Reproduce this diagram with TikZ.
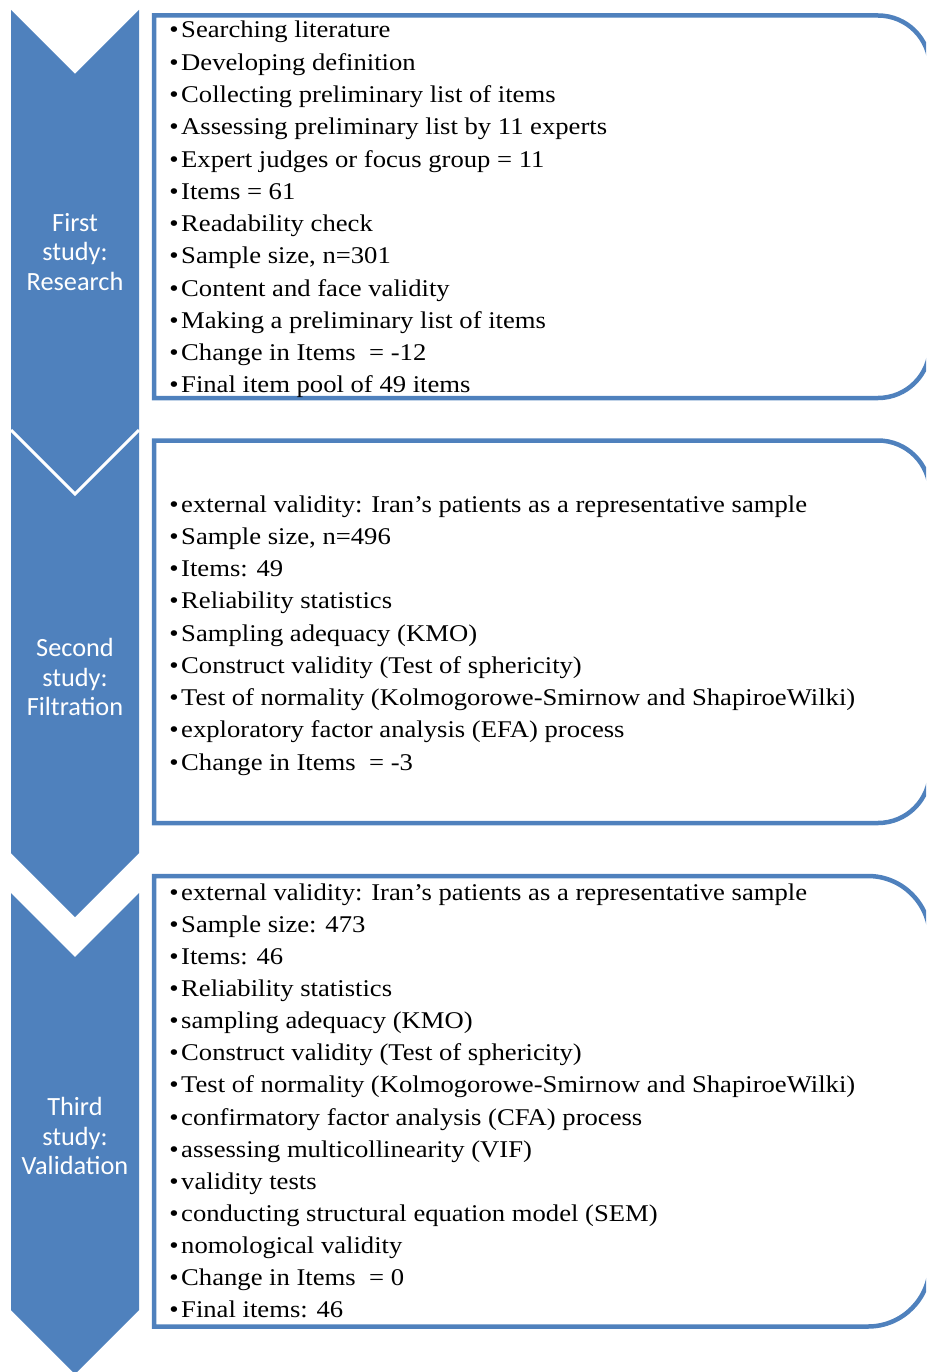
\documentclass[tikz,border=0pt]{standalone}
\usepackage{fontspec}
\setmainfont{Liberation Serif}
\newfontfamily\itemfont[FakeStretch=1.11]{Liberation Serif}
\newfontfamily\calib{Carlito}
\definecolor{accent}{HTML}{4F81BD}
\begin{document}
\begin{tikzpicture}[x=1pt,y=-1pt,
  chev/.style={fill=accent},
  notchline/.style={draw=white,line width=3pt},
  frame/.style={draw=accent,line width=4.5pt,line join=miter},
  item/.style={anchor=base west,inner sep=0pt,font=\itemfont\fontsize{24}{28}\selectfont},
  bul/.style={anchor=base,inner sep=0pt,font=\itemfont\fontsize{24}{28}\selectfont},
  lab/.style={text=white,align=center,inner sep=0pt,font=\calib\fontsize{26.3}{29.5}\selectfont}]
\useasboundingbox (0,0) rectangle (926,1372);
\clip (0,0) rectangle (926,1372);
% chevrons
\fill[chev] (11,10) -- (75,74) -- (139,10) -- (139,430) -- (75,494) -- (11,430) -- cycle;
\fill[chev] (11,430) -- (75,494) -- (139,430) -- (139,853) -- (75,917) -- (11,853) -- cycle;
\draw[notchline] (11,430) -- (75,494) -- (139,430);
\fill[chev] (11,893) -- (75,957) -- (139,893) -- (139,1310) -- (75,1374) -- (11,1310) -- cycle;
\node[lab] (c1) at (75,252) {First\\study:\\Research};
\node[lab] (c2) at (75,677) {Second\\study:\\Filtration};
\node[lab] (c3) at (75,1136) {Third\\study:\\Validation};
% frames
\draw[frame] (154,15.5) -- (878,15.5) arc[start angle=-90,end angle=0,radius=52] -- (930,346) arc[start angle=0,end angle=90,radius=52] -- (154,398) -- cycle;
\draw[frame] (154,440.5) -- (878,440.5) arc[start angle=-90,end angle=0,radius=52] -- (930,771) arc[start angle=0,end angle=90,radius=52] -- (154,823) -- cycle;
\draw[frame] (154,876) -- (868,876) arc[start angle=-90,end angle=0,radius=62] -- (930,1264.5) arc[start angle=0,end angle=90,radius=62] -- (154,1326.5) -- cycle;
% texts
\foreach \t [count=\i] in {Searching literature, Developing definition, Collecting preliminary list of items, Assessing preliminary list by 11 experts, Expert judges or focus group = 11, Items = 61, Readability check, {Sample size, n=301}, Content and face validity, Making a preliminary list of items, Change in Items\ \ = -12, Final item pool of 49 items} {
  \node[bul] (p1-\i) at (174,{38+32.27*(\i-1)}) {\textbullet};
  \node[item] (t1-\i) at (181,{38+32.27*(\i-1)}) {\t};
}
\foreach \t [count=\i] in {external validity: Iran’s patients as a representative sample, {Sample size, n=496}, Items: 49, Reliability statistics, Sampling adequacy (KMO), Construct validity (Test of sphericity), Test of normality (Kolmogorowe-Smirnow and ShapiroeWilki), exploratory factor analysis (EFA) process, Change in Items\ \ = -3} {
  \node[bul] (p2-\i) at (174,{512+32.25*(\i-1)}) {\textbullet};
  \node[item] (t2-\i) at (181,{512+32.25*(\i-1)}) {\t};
}
\foreach \t [count=\i] in {external validity: Iran’s patients as a representative sample, Sample size: 473, Items: 46, Reliability statistics, sampling adequacy (KMO), Construct validity (Test of sphericity), Test of normality (Kolmogorowe-Smirnow and ShapiroeWilki), confirmatory factor analysis (CFA) process, assessing multicollinearity (VIF), validity tests, conducting structural equation model (SEM), nomological validity, Change in Items\ \ = 0, Final items: 46} {
  \node[bul] (p3-\i) at (174,{900+32.15*(\i-1)}) {\textbullet};
  \node[item] (t3-\i) at (181,{900+32.15*(\i-1)}) {\t};
}
\end{tikzpicture}
\end{document}
